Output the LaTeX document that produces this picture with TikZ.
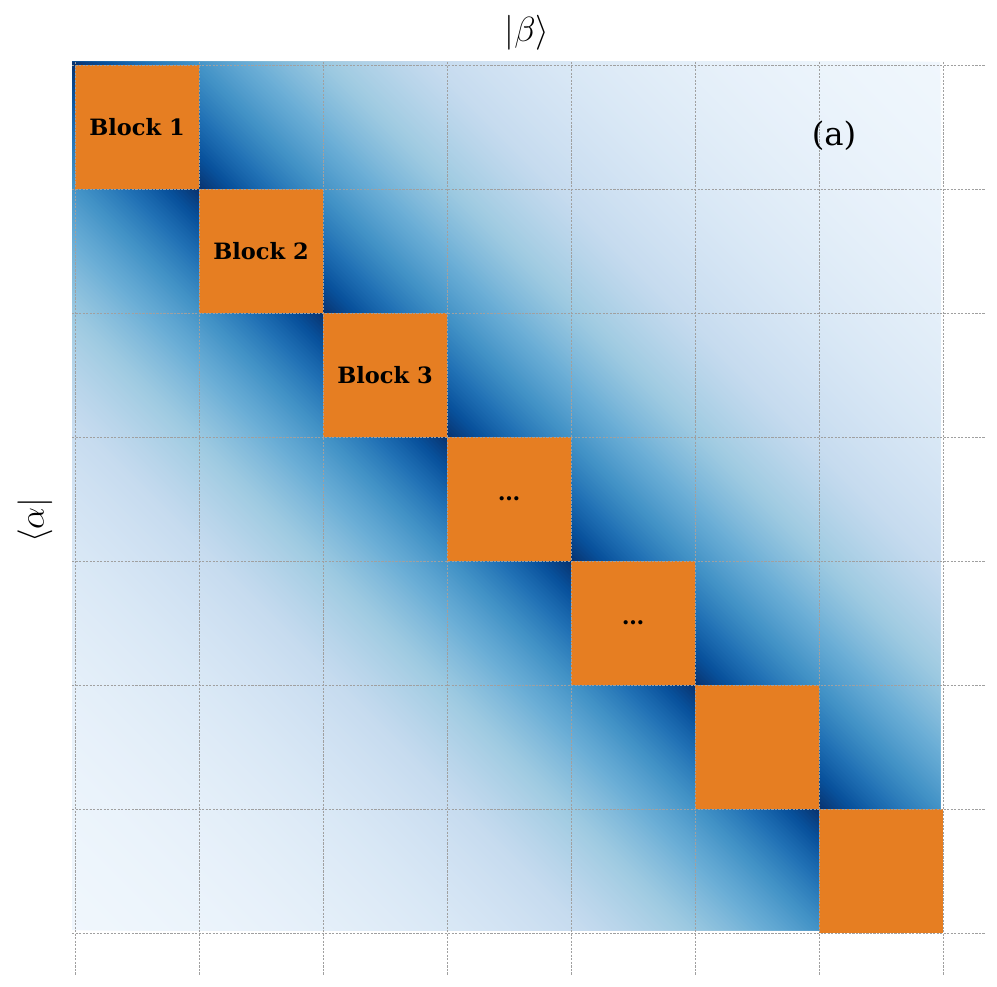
\documentclass[tikz,border=0pt]{standalone}
\usepackage{fontspec}
\newfontfamily\dvserif{DejaVu Serif}
\definecolor{bl0}{RGB}{247,251,255}
\definecolor{bl1}{RGB}{222,235,247}
\definecolor{bl2}{RGB}{198,219,239}
\definecolor{bl3}{RGB}{158,202,225}
\definecolor{bl4}{RGB}{107,174,214}
\definecolor{bl5}{RGB}{66,146,198}
\definecolor{bl6}{RGB}{33,113,181}
\definecolor{bl7}{RGB}{8,81,156}
\definecolor{bl8}{RGB}{8,48,107}
\definecolor{blockorange}{RGB}{230,126,34}
\definecolor{gridgray}{RGB}{160,160,160}
\tikzset{
  blockbox/.style={fill=blockorange, inner sep=0pt, minimum size=31mm, font=\dvserif\bfseries\fontsize{16}{19}\selectfont},
  gridline/.style={gridgray, line width=0.6pt, dash pattern=on 1.6pt off 0.9pt},
}
\begin{document}
\begin{tikzpicture}[x=0.25mm, y=-0.25mm]
\useasboundingbox (0,0) rectangle (997,987);
% heat map: colour depends on distance from the diagonal
\foreach \d in {868,864,...,4} {
  \pgfmathsetmacro\t{8*exp(-\d/260)}
  \pgfmathtruncatemacro\i{min(floor(\t),7)}
  \pgfmathtruncatemacro\j{\i+1}
  \pgfmathsetmacro\f{100*(\t-\i)}
  \fill[bl\j!\f!bl\i] (72,62) -- (72+\d,62) -- (940,930-\d) -- (940,930) -- (940-\d,930) -- (72,62+\d) -- cycle;
}
% diagonal blocks
\node[blockbox] (b1) at (137,127) {Block 1};
\node[blockbox] (b2) at (261,251) {Block 2};
\node[blockbox] (b3) at (385,375) {Block 3};
\node[blockbox] (b4) at (509,499) {…};
\node[blockbox] (b5) at (633,623) {…};
\node[blockbox] (b6) at (757,747) {};
\node[blockbox] (b7) at (881,871) {};
% grid
\foreach \k in {0,...,7} {
  \draw[gridline] (75+124*\k,62) -- (75+124*\k,975);
  \draw[gridline] (72,65+124*\k) -- (985,65+124*\k);
}
% labels
\node[font=\dvserif\fontsize{23}{27}\selectfont] (lab) at (834,136) {(a)};
\node[font=\fontsize{28}{32}\selectfont] (beta) at (527,33) {$|\beta\rangle$};
\node[font=\fontsize{28}{32}\selectfont, rotate=90] (alpha) at (35,520) {$\langle\alpha|$};
\end{tikzpicture}
\end{document}
